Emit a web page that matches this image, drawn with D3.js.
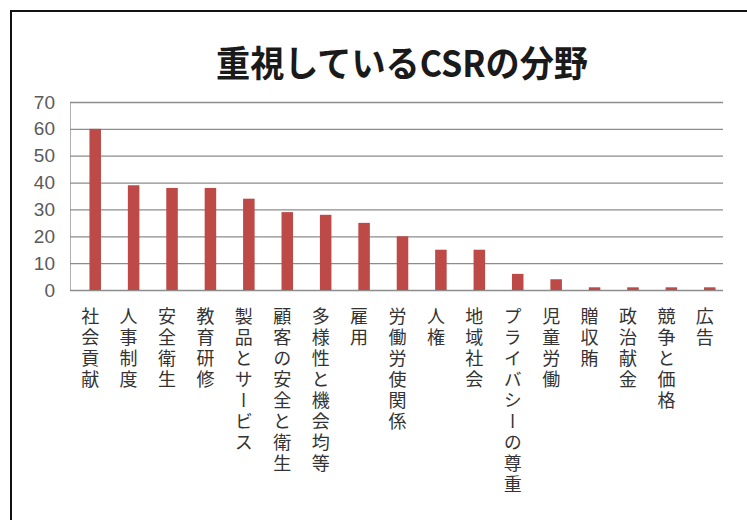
<!DOCTYPE html>
<html>
<head>
<meta charset="utf-8">
<script src="https://cdn.jsdelivr.net/npm/d3@7"></script>
<style>
  html, body { margin: 0; padding: 0; background: #fff; }
  svg { display: block; }
  text { font-family: "Noto Sans CJK JP", "Noto Sans", sans-serif; }
</style>
</head>
<body>
<svg id="chart" width="747" height="520"></svg>
<script>
// CSR focus areas and number of responses
const categories = [
  "社会貢献", "人事制度", "安全衛生", "教育研修", "製品とサービス",
  "顧客の安全と衛生", "多様性と機会均等", "雇用", "労働労使関係", "人権",
  "地域社会", "プライバシーの尊重", "児童労働", "贈収賄", "政治献金",
  "競争と価格", "広告"
];
const values = [60, 39, 38, 38, 34, 29, 28, 25, 20, 15, 15, 6, 4, 1, 1, 1, 1];
const yTicks = [0, 10, 20, 30, 40, 50, 60, 70];
const title = "重視しているCSRの分野";

const svg = d3.select("#chart");

// outer frame (top and left edges)
svg.append("path")
  .attr("d", "M11,520 L11,11 L747,11")
  .attr("fill", "none")
  .attr("stroke", "#111")
  .attr("stroke-width", 2);

const plotLeft = 70, plotRight = 723, plotTop = 102, plotBottom = 290;

const y = d3.scaleLinear().domain([0, 70]).range([plotBottom, plotTop]);
const x = d3.scaleBand().domain(categories).range([76, 729])
  .paddingInner(0.70).paddingOuter(0.35);

// title
svg.append("text")
  .attr("x", 402).attr("y", 77)
  .attr("text-anchor", "middle")
  .attr("font-size", 36)
  .attr("font-weight", "bold")
  .attr("fill", "#1a1a1a")
  .attr("textLength", 372)
  .attr("lengthAdjust", "spacingAndGlyphs")
  .text(title);

// value axis with gridlines
const yAxis = svg.append("g")
  .attr("transform", `translate(${plotLeft},0)`)
  .call(d3.axisLeft(y).tickValues(yTicks)
    .tickSize(-(plotRight - plotLeft)).tickPadding(15));
yAxis.select(".domain").attr("stroke", "#b0b0b0");
yAxis.selectAll(".tick line").attr("stroke", "#8c8c8c").attr("stroke-width", 1.3);
yAxis.selectAll(".tick text")
  .attr("font-size", 19)
  .attr("fill", "#5a5a5a")
  .style("font-family", "'Liberation Sans', Arial, sans-serif");

// bars
svg.append("g").selectAll("rect")
  .data(values)
  .join("rect")
  .attr("x", (d, i) => x(categories[i]))
  .attr("width", x.bandwidth())
  .attr("y", d => y(d))
  .attr("height", d => y(0) - y(d))
  .attr("fill", "#bd4a47");

// category axis with vertical labels
const xAxis = svg.append("g")
  .attr("transform", `translate(0,${plotBottom})`)
  .call(d3.axisBottom(x).tickSize(0).tickPadding(0));
xAxis.select(".domain").remove();
xAxis.selectAll(".tick text")
  .attr("x", -5)
  .attr("y", 17)
  .attr("dy", null)
  .attr("text-anchor", "start")
  .style("writing-mode", "vertical-rl")
  .style("text-orientation", "upright")
  .style("letter-spacing", "3px")
  .attr("font-size", 18)
  .attr("fill", "#333");
</script>
</body>
</html>
